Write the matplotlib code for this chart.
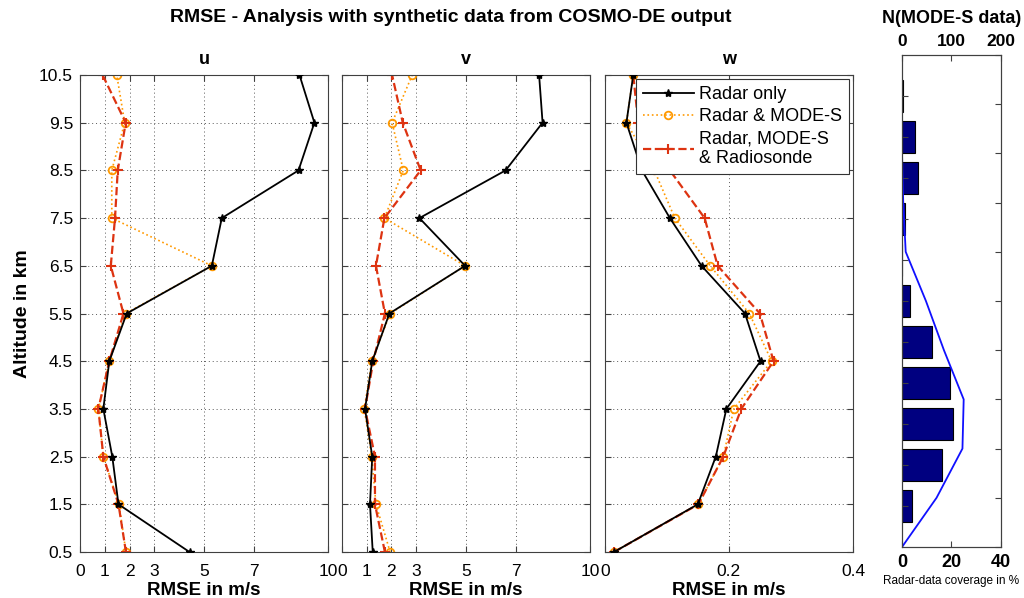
import matplotlib
matplotlib.use("Agg")
import matplotlib.pyplot as plt
import numpy as np

plt.rcParams['font.family'] = ['Liberation Sans', 'DejaVu Sans']

# altitude levels (km)
alt = [0.5, 1.5, 2.5, 3.5, 4.5, 5.5, 6.5, 7.5, 8.5, 9.5, 10.5]

# RMSE values, bottom to top
u_radar = [4.41, 1.55, 1.30, 0.94, 1.18, 1.88, 5.31, 5.71, 8.80, 9.44, 8.84]
u_modes = [1.85, 1.57, 0.94, 0.74, 1.18, 1.84, 5.31, 1.28, 1.28, 1.80, 1.48]
u_sonde = [1.85, 1.55, 0.94, 0.74, 1.18, 1.75, 1.24, 1.41, 1.52, 1.84, 0.91]

v_radar = [1.25, 1.14, 1.23, 0.94, 1.23, 1.92, 4.97, 3.13, 6.60, 8.09, 7.95]
v_modes = [1.95, 1.38, 1.21, 0.91, 1.21, 1.95, 4.97, 1.72, 2.48, 2.03, 2.84]
v_sonde = [1.74, 1.34, 1.34, 0.94, 1.27, 1.74, 1.38, 1.72, 3.18, 2.46, 2.03]

w_radar = [0.015, 0.150, 0.179, 0.196, 0.251, 0.226, 0.156, 0.105, 0.060, 0.035, 0.046]
w_modes = [0.015, 0.151, 0.191, 0.208, 0.269, 0.233, 0.170, 0.113, 0.080, 0.035, 0.046]
w_sonde = [0.015, 0.151, 0.191, 0.220, 0.272, 0.250, 0.182, 0.161, 0.105, 0.054, 0.046]

# MODE-S data count (bars) and radar coverage (line)
bar_pos = [1, 2, 3, 4, 5, 6, 7, 8, 9, 10, 11]
n_modes = [20, 82, 104, 97, 60, 16, 0, 7, 33, 27, 2]
cov_lev = [0, 1, 2, 3, 4, 5, 6, 7, 8, 9, 10]
coverage = [0, 14, 24.5, 25, 17, 9.7, 1.5, 0.5, 0, 0, 0]

uv_ticks = [0, 1, 2, 3, 5, 7, 10]
w_ticks = [0, 0.2, 0.4]

ORANGE = '#FF9900'
RED = '#DD3311'
SPINE = '0.25'

fig = plt.figure(figsize=(10.24, 5.98), dpi=100)

W = 1024.0
H = 598.0
panels = [
    ('u', 80, u_radar, u_modes, u_sonde, (0, 10), uv_ticks),
    ('v', 341.7, v_radar, v_modes, v_sonde, (0, 10), uv_ticks),
    ('w', 604.7, w_radar, w_modes, w_sonde, (0, 0.4), w_ticks),
]

for i, (name, x0, r, m, s, xlim, xt) in enumerate(panels):
    ax = fig.add_axes([x0 / W, (H - 552) / H, 248.3 / W, 477 / H])
    ax.plot(r, alt, '-', color='k', lw=1.3, marker='*', ms=6,
            label='Radar only', zorder=3)
    ax.plot(m, alt, ':', color=ORANGE, lw=1.2, marker='o', ms=5.5,
            mfc='none', mew=1.3, label='Radar & MODE-S', zorder=2)
    ax.plot(s, alt, '--', color=RED, lw=1.6, marker='+', ms=7.5,
            mew=1.5, label='Radar, MODE-S\n& Radiosonde', zorder=2)
    ax.set_xlim(*xlim)
    ax.set_ylim(0.5, 10.5)
    ax.set_xticks(xt)
    ax.set_xticklabels([('%g' % t) for t in xt])
    ax.set_yticks(alt)
    if i == 0:
        ax.set_yticklabels([('%g' % a) for a in alt])
        ax.set_ylabel('Altitude in km', fontsize=14, fontweight='bold',
                      labelpad=6)
    else:
        ax.set_yticklabels([])
    ax.grid(True, linestyle=(0, (1, 3)), color='0.35', lw=0.7)
    ax.tick_params(direction='in', top=True, right=True, length=4,
                   labelsize=12.5, color=SPINE, pad=5)
    ax.tick_params(axis='x', pad=9)
    for sp in ax.spines.values():
        sp.set_color(SPINE)
    ax.set_title(name, fontsize=13, fontweight='bold', pad=8)
    ax.set_xlabel('RMSE in m/s', fontsize=13.5, fontweight='bold', labelpad=2)
    if name == 'w':
        leg = ax.legend(loc='upper right', fontsize=13, handlelength=2.8,
                        labelspacing=0.3, borderpad=0.4, handletextpad=0.3,
                        fancybox=False, framealpha=1, borderaxespad=0.2)
        leg.get_frame().set_edgecolor('0.2')
        leg.get_frame().set_linewidth(0.8)

fig.text(0.44, 1 - 18 / H, 'RMSE - Analysis with synthetic data from COSMO-DE output',
         ha='center', va='center', fontsize=14, fontweight='bold')

# histogram panel
hpos = [902 / W, (H - 547) / H, 98.7 / W, 492 / H]
axh = fig.add_axes(hpos)
axh.barh(bar_pos, n_modes, height=0.8, color='#000080', edgecolor='k', lw=0.8)
axh.set_xlim(0, 200)
axh.set_ylim(0, 12)
axh.xaxis.tick_top()
axh.xaxis.set_label_position('top')
axh.set_xticks([0, 100, 200])
axh.set_xticklabels(['0', '100', '200'], fontweight='bold')
axh.set_xlabel('N(MODE-S data)', fontsize=13, fontweight='bold', labelpad=8)
axh.set_yticks(bar_pos)
axh.set_yticklabels([])
axh.tick_params(direction='in', length=4, labelsize=12.5, color=SPINE, pad=4)
for sp in axh.spines.values():
    sp.set_color(SPINE)

axc = fig.add_axes(hpos, facecolor='none')
axc.plot(coverage, cov_lev, '-', color='#1010FF', lw=1.3)
axc.set_xlim(0, 40)
axc.set_ylim(0, 10)
axc.set_xticks([0, 20, 40])
axc.set_xticklabels(['0', '20', '40'], fontweight='bold')
axc.set_yticks(cov_lev)
axc.set_yticklabels([])
axc.tick_params(direction='in', length=4, labelsize=13, color=SPINE,
                left=False, right=True, pad=5)
axc.set_xlabel('Radar-data coverage in %', fontsize=8.5, labelpad=3)
for sp in axc.spines.values():
    sp.set_color(SPINE)

fig.savefig('out.png', dpi=100, facecolor='white')
